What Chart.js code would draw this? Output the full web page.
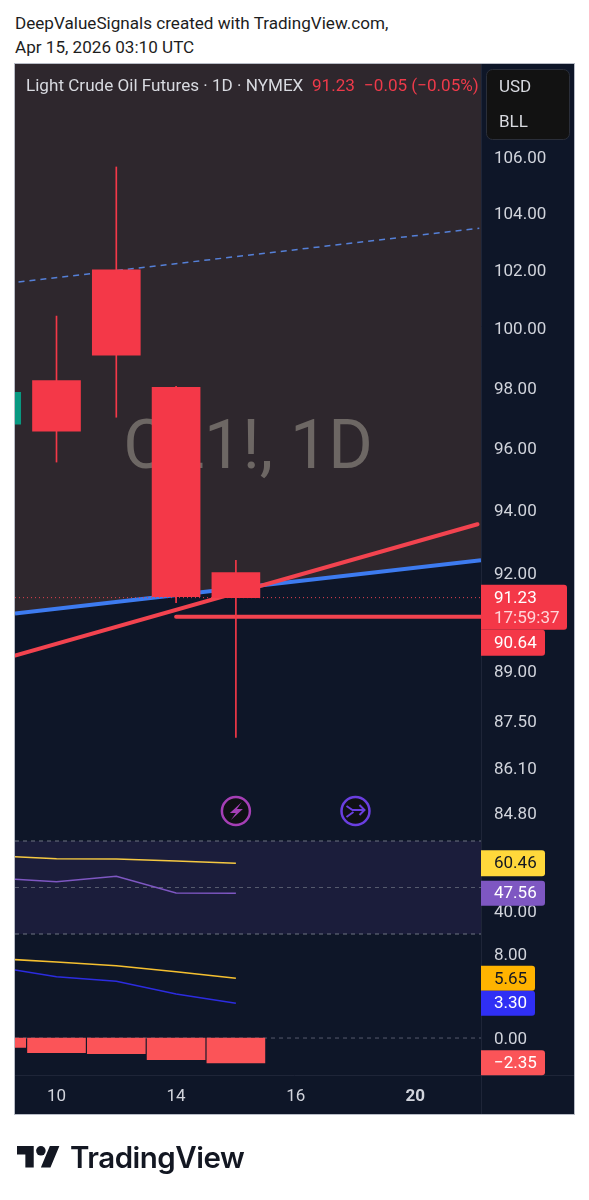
<!DOCTYPE html>
<html>
<head>
<meta charset="utf-8">
<title>Light Crude Oil Futures</title>
<script src="https://cdn.jsdelivr.net/npm/chart.js@4"></script>
<style>
  html, body { margin: 0; background: #fff; }
  #wrap { position: relative; width: 589px; height: 1200px; overflow: hidden; font-family: Roboto, sans-serif; }
  #chart { position: absolute; left: 0; top: 0; }
  .head { position: absolute; left: 15px; font-size: 17.1px; color: #1d1d1d; white-space: nowrap; line-height: 24px; }
  #logo { position: absolute; left: 17px; top: 1141px; }
  #brand { position: absolute; left: 70px; top: 1139px; font: 600 29.5px Inter, sans-serif; letter-spacing: -0.5px; color: #131722; line-height: 36px; }
</style>
</head>
<body>
<div id="wrap">
  <div class="head" style="top:11px">DeepValueSignals created with TradingView.com,</div>
  <div class="head" style="top:35px">Apr 15, 2026 03:10 UTC</div>
  <canvas id="chart" width="589" height="1200"></canvas>
  <svg id="logo" width="43" height="34" viewBox="0 0 36 28" fill="#131722">
    <path d="M14 22H7V11H0V4h14v18zM28 22h-8l7.5-18h8L28 22z"></path>
    <circle cx="20" cy="8" r="4"></circle>
  </svg>
  <div id="brand">TradingView</div>
</div>
<script>
// x runs over trading days, 0 = Apr 10
const dayLabels = { 0: "10", 2: "14", 4: "16", 6: "20" };
const xTicks = [0, 2, 4, 6];
const xMin = -0.694;
const xMax = 7.099;

// candles
const candleDays = [-1, 0, 1, 2, 3];
const opens = [96.78, 98.23, 102.0, 98.0, 92.01];
const closes = [97.84, 96.55, 99.08, 91.26, 91.23];
const highs = [98.2, 100.41, 105.64, 98.04, 92.4];
const lows = [96.5, 95.54, 97.01, 91.07, 86.99];

// drawn lines on the price pane
const blueLineX = [-0.694, 7.099];
const blueLine = [90.74, 92.4];
const dashLineX = [-0.635, 7.07];
const dashLine = [101.58, 103.46];
const redLineX = [-0.694, 7.04];
const redLine = [89.45, 93.54];
const levelX = [2, 7.099];
const levelLine = [90.64, 90.64];
const lastX = [-0.694, 7.099];
const lastPrice = 91.23;
const levelPrice = 90.64;

// RSI
const rsiDays = [-1, 0, 1, 2, 3];
const rsiMa = [63.63, 62.39, 62.26, 61.4, 60.46];
const rsi = [54.09, 52.49, 54.82, 47.63, 47.56];

// MACD
const macdDays = [-1, 0, 1, 2, 3];
const signal = [7.52, 7.2, 6.85, 6.28, 5.65];
const macd = [6.72, 5.8, 5.37, 4.17, 3.3];
const hist = [-0.88, -1.39, -1.49, -2.05, -2.35];

// tick labels
const priceTicks = [106, 104, 102, 100, 98, 96, 94, 92, 89, 87.5, 86.1, 84.8];
const rsiTicks = [40];
const macdTicks = [8, 0];

const RED = "#f43848";
const GREEN = "#089981";
const NAVY = "#0e1628";

function pts(xs, ys) {
  return xs.map((x, i) => ({ x: x, y: ys[i] }));
}
function flat(xs, v) {
  return [{ x: xs[0], y: v }, { x: xs[1], y: v }];
}
function line(data, yAxisID, color, width, extra) {
  return Object.assign({
    type: "line", data, yAxisID, borderColor: color, borderWidth: width,
    pointRadius: 0, tension: 0, fill: false, order: 5
  }, extra || {});
}
function setTicks(values) {
  return (scale) => { scale.ticks = values.map((v) => ({ value: v })); };
}
function yAxis(weight, min, max, values, type) {
  return {
    type: type || "linear",
    position: "right",
    stack: "panes",
    stackWeight: weight,
    min, max,
    afterBuildTicks: setTicks(values),
    afterFit: (scale) => { scale.width = 93; },
    grid: { display: false, drawTicks: false },
    border: { display: false },
    ticks: {
      color: "#d1d4dc", padding: 13, autoSkip: false, maxRotation: 0,
      // the empty first line pushes the label down about 2px, onto its value
      font: { family: "Roboto", size: 17, lineHeight: 0.25 },
      callback: (v) => ["", Number(v).toFixed(2)]
    }
  };
}

function tag(ctx, y, text, bg, fg, w, h, dy) {
  ctx.fillStyle = bg;
  ctx.beginPath();
  ctx.roundRect(481, y + dy - h / 2, w, h, [0, 3, 3, 0]);
  ctx.fill();
  ctx.fillStyle = fg;
  ctx.font = "17px Roboto";
  ctx.textAlign = "left";
  ctx.textBaseline = "middle";
  ctx.fillText(text, 494, y + dy + 1);
}

const panelPlugin = {
  id: "panel",
  beforeDraw(chart) {
    const { ctx } = chart;
    ctx.save();
    ctx.fillStyle = NAVY;
    ctx.fillRect(15, 64, 559, 1050);
    ctx.restore();
  },
  beforeDatasetsDraw(chart) {
    // watermark sits between the fills and the candles
    const { ctx } = chart;
    ctx.save();
    ctx.fillStyle = "#6d6764";
    ctx.font = "68px Roboto";
    ctx.textAlign = "center";
    ctx.textBaseline = "middle";
    ctx.fillText("CL1!, 1D", 248, 451);
    ctx.restore();
  },
  afterDraw(chart) {
    const { ctx, scales } = chart;
    ctx.save();

    // separators and frame
    ctx.strokeStyle = "#1e2538";
    ctx.lineWidth = 1;
    ctx.beginPath();
    ctx.moveTo(481.5, 64); ctx.lineTo(481.5, 1114);
    ctx.moveTo(15, 1075.5); ctx.lineTo(574, 1075.5);
    ctx.stroke();
    ctx.strokeStyle = "#b8bcc6";
    ctx.strokeRect(14.5, 63.5, 560, 1051);

    // legend line
    ctx.textBaseline = "middle";
    ctx.textAlign = "left";
    ctx.font = "17.1px Roboto";
    ctx.fillStyle = "#d8dae0";
    ctx.fillText("Light Crude Oil Futures · 1D · NYMEX", 26, 87);
    ctx.fillStyle = "#ee3a4a";
    ctx.fillText("91.23", 312, 87);
    ctx.fillText("−0.05 (−0.05%)", 364, 87);

    // currency / unit box
    ctx.fillStyle = "#121212";
    ctx.strokeStyle = "#2a2e39";
    ctx.beginPath();
    ctx.roundRect(486.5, 69.5, 83, 70, 6);
    ctx.fill();
    ctx.stroke();
    ctx.fillStyle = "#d8dae0";
    ctx.font = "17px Roboto";
    ctx.fillText("USD", 499, 88);
    ctx.fillText("BLL", 499, 123);

    // price tags
    const y = scales.y, r = scales.yRsi, m = scales.yMacd;
    tag(ctx, y.getPixelForValue(levelPrice), levelPrice.toFixed(2), RED, "#fff", 64, 26, 26);
    ctx.fillStyle = RED;
    ctx.beginPath();
    ctx.roundRect(481, y.getPixelForValue(lastPrice) - 13, 86, 45, [0, 3, 3, 0]);
    ctx.fill();
    ctx.fillStyle = "#fff";
    ctx.font = "17px Roboto";
    ctx.fillText(lastPrice.toFixed(2), 494, y.getPixelForValue(lastPrice) + 1);
    ctx.fillStyle = "#ffd5d9";
    ctx.fillText("17:59:37", 494, y.getPixelForValue(lastPrice) + 21);
    tag(ctx, r.getPixelForValue(rsiMa[4]), rsiMa[4].toFixed(2), "#ffd83b", "#131722", 64, 26, 0);
    tag(ctx, r.getPixelForValue(rsi[4]), rsi[4].toFixed(2), "#7e57c2", "#fff", 64, 25, 0);
    tag(ctx, m.getPixelForValue(signal[4]), signal[4].toFixed(2), "#ffb300", "#131722", 54, 25, 0);
    tag(ctx, m.getPixelForValue(macd[4]), macd[4].toFixed(2), "#2f2ff5", "#fff", 54, 25, 0);
    tag(ctx, m.getPixelForValue(hist[4]), "−" + Math.abs(hist[4]).toFixed(2), "#fb5458", "#fff", 64, 25, 0);

    // event icons under the candles
    const ix = scales.x.getPixelForValue(3), jx = scales.x.getPixelForValue(5), iy = 811;
    ctx.lineWidth = 2.5;
    ctx.fillStyle = "#0f1014";
    ctx.strokeStyle = "#a53fb5";
    ctx.beginPath(); ctx.arc(ix, iy, 14, 0, Math.PI * 2); ctx.fill(); ctx.stroke();
    ctx.fillStyle = "#a53fb5";
    ctx.beginPath();
    ctx.moveTo(ix + 6, iy - 9); ctx.lineTo(ix - 6, iy + 2); ctx.lineTo(ix, iy + 2);
    ctx.lineTo(ix - 5, iy + 9); ctx.lineTo(ix + 7, iy - 2); ctx.lineTo(ix + 1, iy - 2);
    ctx.closePath(); ctx.fill();
    ctx.strokeStyle = "#6a3fe0";
    ctx.fillStyle = "#0f1014";
    ctx.beginPath(); ctx.arc(jx, iy, 14, 0, Math.PI * 2); ctx.fill(); ctx.stroke();
    ctx.lineWidth = 2;
    ctx.beginPath();
    ctx.moveTo(jx - 9, iy - 5); ctx.lineTo(jx - 3, iy - 1); ctx.lineTo(jx + 9, iy - 1);
    ctx.moveTo(jx + 4, iy - 6); ctx.lineTo(jx + 9, iy - 1); ctx.lineTo(jx + 4, iy + 4);
    ctx.moveTo(jx - 9, iy + 6); ctx.lineTo(jx - 2, iy + 1);
    ctx.stroke();

    ctx.restore();
  }
};

const bodyData = candleDays.map((d, i) => ({ x: d, y: [opens[i], closes[i]] }));
const wickData = candleDays.map((d, i) => ({ x: d, y: [lows[i], highs[i]] }));
const candleColors = candleDays.map((d, i) => (closes[i] > opens[i] ? GREEN : RED));

new Chart(document.getElementById("chart"), {
  type: "bar",
  data: {
    datasets: [
      // price pane
      line(pts(blueLineX, blueLine), "y", "#3d7bf0", 4, { fill: "end", backgroundColor: "#2e272d", order: 7 }),
      line(pts(dashLineX, dashLine), "y", "#5580d8", 1.5, { borderDash: [6, 5], order: 6 }),
      line(pts(redLineX, redLine), "y", "#f2434f", 4, { borderCapStyle: "round", order: 6 }),
      line(flat(lastX, lastPrice), "y", "#e04050", 1, { borderDash: [1, 3], order: 6 }),
      line(pts(levelX, levelLine), "y", "#f2434f", 4, { borderCapStyle: "round", order: 6 }),
      { type: "bar", data: wickData, yAxisID: "y", backgroundColor: candleColors, barThickness: 1, grouped: false, order: 2 },
      { type: "bar", data: bodyData, yAxisID: "y", backgroundColor: candleColors, barThickness: 48, grouped: false, order: 1 },
      // RSI pane
      line(flat(lastX, 70), "yRsi", "#6f7482", 1, { borderDash: [4, 4], fill: { value: 30 }, backgroundColor: "#1b1d3b", order: 8 }),
      line(flat(lastX, 50), "yRsi", "#555a6c", 1, { borderDash: [4, 4], order: 7 }),
      line(flat(lastX, 30), "yRsi", "#6f7482", 1, { borderDash: [4, 4], order: 7 }),
      line(pts(rsiDays, rsiMa), "yRsi", "#f5c842", 1.5, { order: 3 }),
      line(pts(rsiDays, rsi), "yRsi", "#7e57c2", 1.5, { order: 3 }),
      // MACD pane
      line(flat(lastX, 0), "yMacd", "#555a6c", 1, { borderDash: [4, 4], order: 7 }),
      line(pts(macdDays, signal), "yMacd", "#f5c030", 1.5, { order: 3 }),
      line(pts(macdDays, macd), "yMacd", "#2c2ce0", 1.5, { order: 3 }),
      { type: "bar", data: pts(macdDays, hist), yAxisID: "yMacd", backgroundColor: "#fb5458", barThickness: 58, grouped: false, order: 2 }
    ]
  },
  options: {
    responsive: false,
    animation: false,
    events: [],
    layout: { padding: { left: 15, top: 64, right: 15, bottom: 86 } },
    plugins: {
      legend: { display: false },
      tooltip: { enabled: false },
      filler: { drawTime: "beforeDatasetsDraw" }
    },
    scales: {
      x: {
        type: "linear",
        min: xMin,
        max: xMax,
        offset: false,
        afterBuildTicks: setTicks(xTicks),
        afterFit: (scale) => { scale.height = 39; },
        grid: { display: false, drawTicks: false },
        border: { display: false },
        ticks: {
          color: "#d1d4dc", padding: 12, autoSkip: false, maxRotation: 0,
          font: (c) => ({ family: "Roboto", size: 17, weight: c.tick && c.tick.value === 6 ? "bold" : "normal" }),
          callback: (v) => dayLabels[v]
        }
      },
      y: yAxis(774, 84.06, 109.41, priceTicks, "logarithmic"),
      yRsi: yAxis(99, 28.71, 71.29, rsiTicks),
      yMacd: yAxis(138, -3.5, 9.564, macdTicks)
    }
  },
  plugins: [panelPlugin]
});
</script>
</body>
</html>
